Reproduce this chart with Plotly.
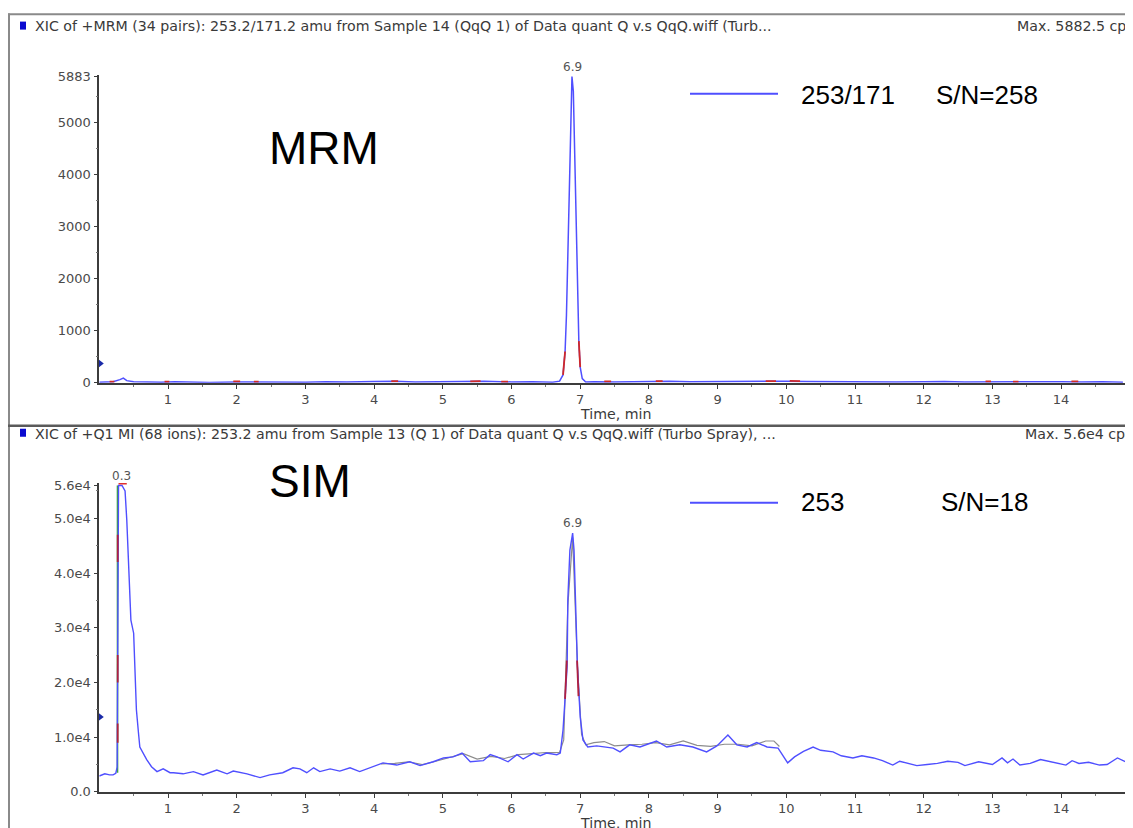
import plotly.graph_objects as go

# page placement calibration (measured from earlier renders):
# screen_x = 8 + fig_x ; screen_y = 13.4 + 0.984 * fig_y
OFFX = 8
OFFY, SY = 13.4, 0.984
W, H = 1133 - OFFX, 830


def px(x):
    return (x - OFFX) / W


def py(y):
    return 1 - ((y - OFFY) / SY) / H


# ---------------- data ----------------
x_ticks = list(range(1, 15))
x_minor = [0.5, 1.5, 2.5, 3.5, 4.5, 5.5, 6.5, 7.5, 8.5, 9.5, 10.5, 11.5, 12.5, 13.5, 14.5]

mrm_yticks = [0, 1000, 2000, 3000, 4000, 5000, 5883]
mrm_yticklabels = ["0", "1000", "2000", "3000", "4000", "5000", "5883"]
sim_yticks = [0, 10000, 20000, 30000, 40000, 50000, 56000]
sim_yticklabels = ["0.0", "1.0e4", "2.0e4", "3.0e4", "4.0e4", "5.0e4", "5.6e4"]

# MRM 253/171 trace
mrm_time = [0.00, 0.10, 0.20, 0.30, 0.35, 0.40, 0.50, 0.70, 0.90, 1.10,
            1.30, 1.60, 2.00, 2.30, 2.60, 3.00, 3.30, 3.60, 4.00, 4.30,
            4.60, 5.00, 5.30, 5.60, 6.00, 6.30, 6.60, 6.70, 6.75, 6.78,
            6.80, 6.82, 6.84, 6.86, 6.88, 6.90, 6.92, 6.94, 6.96, 6.98,
            7.00, 7.03, 7.08, 7.20, 7.50, 7.80, 8.00, 8.30, 8.60, 9.00,
            9.30, 9.60, 10.00, 10.30, 10.60, 11.00, 11.30, 11.60, 12.00, 12.30,
            12.60, 13.00, 13.30, 13.60, 14.00, 14.30, 14.60, 14.90]
mrm_cps = [10, 15, 20, 60, 90, 40, 20, 15, 10, 20,
           10, 5, 15, 10, 5, 10, 20, 15, 25, 30,
           15, 20, 25, 30, 15, 20, 10, 30, 150, 600,
           1300, 2500, 4000, 5200, 5883, 5600, 4500, 3000, 1700, 800,
           300, 80, 15, 20, 15, 25, 20, 30, 20, 25,
           30, 20, 30, 25, 20, 25, 20, 15, 20, 25,
           15, 20, 25, 15, 20, 15, 20, 10]

# red overlay specks on the MRM trace (short pieces, None = gap)
mrm_red_time = [0.15, 0.22, None, 0.95, 1.02, None, 1.95, 2.05, None, 2.25, 2.32, None,
                4.25, 4.35, None, 5.40, 5.55, None, 5.85, 5.95, None, 6.75, 6.78, None,
                6.98, 7.00, None, 7.35, 7.45, None, 8.10, 8.20, None, 9.70, 9.85, None,
                10.05, 10.20, None, 12.90, 12.98, None, 13.30, 13.38, None, 14.15, 14.25]
mrm_red_cps = [20, 20, None, 20, 20, None, 25, 25, None, 20, 20, None,
               30, 30, None, 25, 30, None, 20, 20, None, 150, 600, None,
               800, 300, None, 25, 25, None, 30, 30, None, 30, 30, None,
               35, 30, None, 25, 25, None, 20, 20, None, 25, 25]

# SIM 253 trace
sim_time = [0.00, 0.08, 0.15, 0.20, 0.24, 0.26, 0.27, 0.28, 0.33, 0.375,
            0.40, 0.46, 0.50, 0.52, 0.54, 0.57, 0.59, 0.69, 0.76, 0.84,
            0.93, 1.03, 1.08, 1.22, 1.37, 1.51, 1.71, 1.86, 1.95, 2.15,
            2.34, 2.48, 2.67, 2.82, 2.92, 3.02, 3.12, 3.21, 3.36, 3.50,
            3.65, 3.79, 3.94, 4.13, 4.33, 4.52, 4.67, 4.86, 5.01, 5.15,
            5.28, 5.40, 5.59, 5.69, 5.79, 5.95, 6.08, 6.17, 6.32, 6.42,
            6.51, 6.66, 6.71, 6.75, 6.81, 6.82, 6.85, 6.89, 6.91, 6.93,
            6.96, 7.00, 7.04, 7.11, 7.24, 7.48, 7.58, 7.72, 7.87, 8.11,
            8.26, 8.45, 8.64, 8.84, 8.99, 9.15, 9.28, 9.43, 9.57, 9.72,
            9.88, 10.02, 10.12, 10.25, 10.39, 10.50, 10.68, 10.80, 10.97, 11.10,
            11.27, 11.40, 11.55, 11.65, 11.90, 12.05, 12.20, 12.35, 12.50, 12.60,
            12.80, 13.00, 13.14, 13.22, 13.30, 13.40, 13.55, 13.70, 13.87, 14.07,
            14.16, 14.26, 14.40, 14.56, 14.67, 14.82, 14.97]
sim_cps = [2900, 3300, 3100, 3100, 3400, 4500, 30000, 56000, 56000, 55000,
           49700, 31400, 29000, 20500, 15000, 10800, 8200, 5900, 4600, 3700,
           4200, 3500, 3500, 3300, 3700, 3100, 4000, 3300, 3800, 3300,
           2600, 3100, 3500, 4400, 4200, 3500, 4400, 3700, 4200, 3800,
           4400, 3700, 4400, 5300, 4900, 5500, 4800, 5500, 6200, 6400,
           7100, 5500, 5700, 6800, 6400, 5500, 6800, 6000, 7100, 6600,
           7100, 6800, 7100, 11300, 22900, 35100, 44200, 47300, 44200, 35100,
           22900, 13700, 9500, 8200, 8400, 8000, 7300, 8600, 8200, 9300,
           8200, 8600, 8200, 7300, 8400, 10400, 8600, 8200, 9000, 8200,
           8000, 5300, 6400, 7400, 8200, 7600, 7300, 6600, 6200, 6600,
           6200, 5700, 4900, 5600, 4800, 5000, 5200, 5600, 5400, 4800,
           5500, 5000, 6200, 5300, 6000, 4900, 5200, 5900, 5500, 4900,
           5700, 5200, 5400, 4900, 5000, 6200, 5300]

# grey overlay trace on the SIM panel
sim_grey_time = [4.10, 4.30, 4.50, 4.70, 4.90, 5.10, 5.30, 5.50, 5.70, 5.90,
                 6.10, 6.30, 6.50, 6.70, 6.76, 6.82, 6.89, 6.96, 7.02, 7.08,
                 7.20, 7.35, 7.50, 7.70, 7.90, 8.10, 8.30, 8.50, 8.70, 8.90,
                 9.10, 9.30, 9.50, 9.70, 9.82, 9.90]
sim_grey_cps = [5100, 5200, 5500, 5000, 5600, 6300, 7000, 6000, 6500, 6100,
                6800, 7000, 7200, 7200, 9500, 34000, 46500, 23000, 10500, 8600,
                9000, 9200, 8400, 8600, 8700, 9000, 8600, 9300, 8500, 8300,
                8700, 8700, 8400, 9300, 9300, 8300]

# coloured overlays on SIM peaks
sim_spike_time = [0.265, 0.265]
sim_spike_cps = [3500, 56000]
sim_red_time = [0.268, 0.268, None, 0.268, 0.268, None, 0.268, 0.268, None,
                6.78, 6.805, None, 6.955, 6.975]
sim_red_cps = [9000, 12500, None, 20000, 25000, None, 42000, 47000, None,
               17000, 24000, None, 24000, 17500]
sim_cap_time = [0.28, 0.40]
sim_cap_cps = [56300, 56300]

# peak labels
mrm_peak = (6.89, 5883, "6.9")
sim_peaks = [(0.33, 56000, "0.3"), (6.89, 47300, "6.9")]

# threshold markers on the y axes
mrm_threshold = 370
sim_threshold = 13700

BLUE = "#4f4fff"
AXC = "#3c3c3c"

fig = go.Figure()


def add(x, y, xa, ya, color, width, dash="solid"):
    fig.add_trace(go.Scatter(x=x, y=y, mode="lines", xaxis=xa, yaxis=ya,
                             line=dict(color=color, width=width, dash=dash),
                             showlegend=False, hoverinfo="skip", connectgaps=False))


# MRM panel
add(mrm_time, mrm_cps, "x", "y", BLUE, 1.5)
add(mrm_red_time, mrm_red_cps, "x", "y", "#d02828", 1.8)

# SIM panel
add(sim_grey_time, sim_grey_cps, "x2", "y2", "#8c8c8c", 1.2)
add(sim_spike_time, sim_spike_cps, "x2", "y2", "#3aa83a", 1.6)
add(sim_time, sim_cps, "x2", "y2", BLUE, 1.4)
add(sim_red_time, sim_red_cps, "x2", "y2", "#b02040", 1.8)
add(sim_cap_time, sim_cap_cps, "x2", "y2", "#e03030", 1.5)

# threshold markers
fig.add_trace(go.Scatter(x=[0], y=[mrm_threshold], mode="markers", xaxis="x", yaxis="y",
                         marker=dict(symbol="triangle-right", size=9, color="#1a2aa8"),
                         cliponaxis=False, showlegend=False, hoverinfo="skip"))
fig.add_trace(go.Scatter(x=[0], y=[sim_threshold], mode="markers", xaxis="x2", yaxis="y2",
                         marker=dict(symbol="triangle-right", size=9, color="#1a2aa8"),
                         cliponaxis=False, showlegend=False, hoverinfo="skip"))

tickfont = dict(family="DejaVu Sans", size=13, color="#4a4a4a")
xdom = [px(99.3), px(1129.8)]


def xaxis_cfg(anchor):
    return dict(domain=xdom, range=[0, 15], anchor=anchor, showline=True, linecolor=AXC,
                linewidth=1.6, ticks="outside", ticklen=4, tickwidth=1.2, tickcolor=AXC,
                tickmode="array", tickvals=x_ticks, tickfont=tickfont, showgrid=False,
                zeroline=False,
                minor=dict(tickmode="array", tickvals=x_minor, ticks="outside", ticklen=2,
                           tickcolor="#777", showgrid=False))


fig.update_layout(
    width=W, height=H, autosize=False,
    margin=dict(l=0, r=0, t=0, b=0),
    paper_bgcolor="white", plot_bgcolor="white",
    xaxis=xaxis_cfg("y"),
    xaxis2=xaxis_cfg("y2"),
    yaxis=dict(domain=[py(383), py(75)], range=[0, 5920], anchor="x", showline=True,
               linecolor=AXC, linewidth=1.6, ticks="outside", ticklen=4, tickwidth=1.2,
               tickcolor=AXC, tickmode="array", tickvals=mrm_yticks, ticktext=mrm_yticklabels,
               tickfont=tickfont, showgrid=False, zeroline=False,
               minor=dict(dtick=500, tick0=0, ticks="outside", ticklen=2, tickcolor="#777",
                          showgrid=False)),
    yaxis2=dict(domain=[py(792), py(483)], range=[0, 56500], anchor="x2", showline=True,
                linecolor=AXC, linewidth=1.6, ticks="outside", ticklen=4, tickwidth=1.2,
                tickcolor=AXC, tickmode="array", tickvals=sim_yticks, ticktext=sim_yticklabels,
                tickfont=tickfont, showgrid=False, zeroline=False,
                minor=dict(dtick=5000, tick0=0, ticks="outside", ticklen=2, tickcolor="#777",
                           showgrid=False)),
)

shapes = [
    # frame lines
    dict(type="line", xref="paper", yref="paper", x0=px(8), x1=px(1140), y0=py(14.6), y1=py(14.6),
         line=dict(color="#8a8a8a", width=2)),
    dict(type="line", xref="paper", yref="paper", x0=px(9), x1=px(9), y0=py(14), y1=py(840),
         line=dict(color="#8a8a8a", width=2)),
    dict(type="line", xref="paper", yref="paper", x0=px(8), x1=px(1140), y0=py(426), y1=py(426),
         line=dict(color="#5a5a5a", width=2.5)),
    # header squares
    dict(type="rect", xref="paper", yref="paper", x0=px(20), x1=px(26), y0=py(30), y1=py(22),
         fillcolor="#0a0ad0", line=dict(width=0)),
    dict(type="rect", xref="paper", yref="paper", x0=px(20), x1=px(26), y0=py(437), y1=py(429),
         fillcolor="#0a0ad0", line=dict(width=0)),
    # legend samples
    dict(type="line", xref="paper", yref="paper", x0=px(690), x1=px(778), y0=py(94), y1=py(94),
         line=dict(color=BLUE, width=2)),
    dict(type="line", xref="paper", yref="paper", x0=px(690), x1=px(778), y0=py(503), y1=py(503),
         line=dict(color=BLUE, width=2)),
]
fig.update_layout(shapes=shapes)

hfont = dict(family="DejaVu Sans", size=14.2, color="#3a3a3a")
ann = []


def ptext(x, y, text, font, xanchor="left", yanchor="middle"):
    ann.append(dict(xref="paper", yref="paper", x=px(x), y=py(y), text=text, showarrow=False,
                    xanchor=xanchor, yanchor=yanchor, font=font))


ptext(33, 26, "XIC of +MRM (34 pairs): 253.2/171.2 amu from Sample 14 (QqQ 1) of Data quant Q v.s QqQ.wiff (Turb...", hfont)
ptext(1015, 26, "Max. 5882.5 cps", hfont)
ptext(33, 434, "XIC of +Q1 MI (68 ions): 253.2 amu from Sample 13 (Q 1) of Data quant Q v.s QqQ.wiff (Turbo Spray), ...", hfont)
ptext(1023, 434, "Max. 5.6e4 cps", hfont)
ptext(578, 414, "Time, min", hfont)
ptext(578, 823, "Time, min", hfont)

bigfont = dict(family="Liberation Sans, Arial", size=46, color="black")
ptext(267, 148, "MRM", bigfont)
ptext(267, 481, "SIM", bigfont)

legfont = dict(family="Liberation Sans, Arial", size=26, color="black")
ptext(799, 95, "253/171", legfont)
ptext(934, 95, "S/N=258", legfont)
ptext(799, 502, "253", legfont)
ptext(939, 502, "S/N=18", legfont)

pkfont = dict(family="DejaVu Sans", size=12, color="#555")
ann.append(dict(xref="x", yref="y", x=mrm_peak[0], y=mrm_peak[1], text=mrm_peak[2],
                showarrow=False, yanchor="bottom", yshift=1, font=pkfont))
for t, v, lab in sim_peaks:
    ann.append(dict(xref="x2", yref="y2", x=t, y=v, text=lab, showarrow=False,
                    yanchor="bottom", yshift=1, font=pkfont))

fig.update_layout(annotations=ann)

fig.write_html("out.html")
